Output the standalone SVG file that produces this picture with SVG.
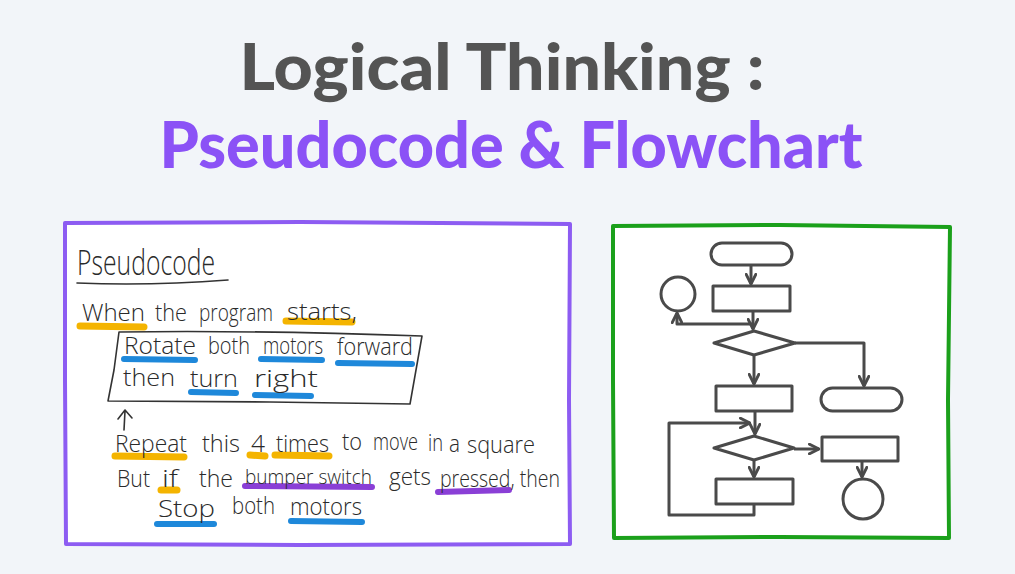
<svg xmlns="http://www.w3.org/2000/svg" width="1015" height="574" viewBox="0 0 1015 574">
<defs>
<style>
.title{font-family:Lato,"Open Sans","Liberation Sans",sans-serif;font-weight:900;font-size:64px;text-anchor:middle}
.hw{font-family:"Open Sans","Liberation Sans",sans-serif;font-weight:300;font-size:23px;fill:#2a2a2a}
.big{font-size:34px}
.sm{font-size:20px}
.ink{fill:none;stroke:#333;stroke-width:1.6;stroke-linecap:round;stroke-linejoin:round}
.hy{stroke:#F4B400;stroke-width:7;stroke-linecap:round;fill:none}
.hb{stroke:#1E88DA;stroke-width:6;stroke-linecap:round;fill:none}
.hp{stroke:#8A3FD6;stroke-width:6;stroke-linecap:round;fill:none}
.fc{fill:#fff;stroke:#4a4a4a;stroke-width:3;stroke-linejoin:round}
.cn{fill:none;stroke:#4a4a4a;stroke-width:3;stroke-linejoin:round}
</style>
<marker id="ah" viewBox="0 0 10 10" refX="9" refY="5" markerWidth="12" markerHeight="12" markerUnits="userSpaceOnUse" orient="auto">
<path d="M1,1 L9,5 L1,9" fill="none" stroke="#4a4a4a" stroke-width="2.4" stroke-linecap="round" stroke-linejoin="round"/>
</marker>
</defs>
<rect width="1015" height="574" fill="#F2F5F9"/>

<g id="title">
<text class="title" x="502" y="90" fill="#545454" textLength="525" lengthAdjust="spacingAndGlyphs">Logical Thinking :</text>
<text class="title" x="511" y="168" fill="#8B52F6" textLength="703" lengthAdjust="spacingAndGlyphs">Pseudocode &amp; Flowchart</text>
</g>

<g id="pseudocode-panel">
<path d="M65,223 L300,222 L570,224 L569,400 L570,544 L300,545 L66,544 L65,380 Z" fill="#fff" stroke="#8D5CF2" stroke-width="4" stroke-linejoin="round"/>
<g id="highlights">
<path class="hy" d="M80,326 L144,327"/>
<path class="hy" d="M286,321 L352,322"/>
<path class="hb" d="M124,359 L195,360"/>
<path class="hb" d="M261,359 L322,360"/>
<path class="hb" d="M338,363 L412,364"/>
<path class="hb" d="M191,392 L236,393"/>
<path class="hb" d="M255,395 L311,396"/>
<path class="hy" d="M115,456 L184,457"/>
<path class="hy" d="M250,455 L265,456"/>
<path class="hy" d="M275,455 L329,456"/>
<path class="hy" d="M161,490 L177,490"/>
<path class="hp" d="M245,486 L372,487"/>
<path class="hp" d="M438,492 L509,490"/>
<path class="hb" d="M157,524 L214,524"/>
<path class="hb" d="M291,521 L362,522"/>
</g>
<text class="hw big" x="77" y="275" textLength="138" lengthAdjust="spacingAndGlyphs">Pseudocode</text>
<path class="ink" d="M77,283 Q150,286 228,280"/>
<g id="line1">
<text class="hw" x="82" y="321" textLength="63" lengthAdjust="spacingAndGlyphs">When</text>
<text class="hw" x="155" y="321" textLength="32" lengthAdjust="spacingAndGlyphs">the</text>
<text class="hw" x="199" y="321" textLength="74" lengthAdjust="spacingAndGlyphs">program</text>
<text class="hw" x="287" y="320" textLength="70" lengthAdjust="spacingAndGlyphs">starts,</text>
</g>
<path class="ink" d="M119,332 Q250,330 422,336 L416,370 L410,404 L270,402 L108,401 L114,370 Z"/>
<g id="line2">
<text class="hw" x="124" y="354" textLength="72" lengthAdjust="spacingAndGlyphs">Rotate</text>
<text class="hw" x="208" y="354" textLength="42" lengthAdjust="spacingAndGlyphs">both</text>
<text class="hw" x="263" y="354" textLength="60" lengthAdjust="spacingAndGlyphs">motors</text>
<text class="hw" x="337" y="355" textLength="76" lengthAdjust="spacingAndGlyphs">forward</text>
</g>
<g id="line3">
<text class="hw" x="123" y="386" textLength="52" lengthAdjust="spacingAndGlyphs">then</text>
<text class="hw" x="190" y="387" textLength="48" lengthAdjust="spacingAndGlyphs">turn</text>
<text class="hw" x="254" y="387" textLength="64" lengthAdjust="spacingAndGlyphs">right</text>
</g>
<path class="ink" d="M124,430 L125,411 M118,419 L125,410 L132,418"/>
<g id="line4">
<text class="hw" x="115" y="452" textLength="72" lengthAdjust="spacingAndGlyphs">Repeat</text>
<text class="hw" x="202" y="452" textLength="38" lengthAdjust="spacingAndGlyphs">this</text>
<text class="hw" x="251" y="452" textLength="14" lengthAdjust="spacingAndGlyphs">4</text>
<text class="hw" x="276" y="452" textLength="53" lengthAdjust="spacingAndGlyphs">times</text>
<text class="hw" x="342" y="450" textLength="20" lengthAdjust="spacingAndGlyphs">to</text>
<text class="hw" x="373" y="450" textLength="45" lengthAdjust="spacingAndGlyphs">move</text>
<text class="hw" x="428" y="451" textLength="15" lengthAdjust="spacingAndGlyphs">in</text>
<text class="hw" x="449" y="452" textLength="11" lengthAdjust="spacingAndGlyphs">a</text>
<text class="hw" x="467" y="453" textLength="68" lengthAdjust="spacingAndGlyphs">square</text>
</g>
<g id="line5">
<text class="hw" x="117" y="487" textLength="33" lengthAdjust="spacingAndGlyphs">But</text>
<text class="hw" x="162" y="487" textLength="16" lengthAdjust="spacingAndGlyphs">if</text>
<text class="hw" x="199" y="487" textLength="34" lengthAdjust="spacingAndGlyphs">the</text>
<text class="hw sm" x="245" y="484" textLength="127" lengthAdjust="spacingAndGlyphs">bumper switch</text>
<text class="hw" x="389" y="485" textLength="42" lengthAdjust="spacingAndGlyphs">gets</text>
<text class="hw" x="440" y="487" textLength="120" lengthAdjust="spacingAndGlyphs">pressed, then</text>
</g>
<g id="line6">
<text class="hw" x="158" y="517" textLength="57" lengthAdjust="spacingAndGlyphs">Stop</text>
<text class="hw" x="232" y="514" textLength="43" lengthAdjust="spacingAndGlyphs">both</text>
<text class="hw" x="290" y="515" textLength="72" lengthAdjust="spacingAndGlyphs">motors</text>
</g>
</g>

<g id="flowchart-panel">
<path d="M613,226 L780,225 L950,227 L948,400 L949,538 L780,537 L614,538 L613,380 Z" fill="#fff" stroke="#1BA01B" stroke-width="4" stroke-linejoin="round"/>
</g>

<g id="connectors">
<path class="cn" d="M751,265 V284" marker-end="url(#ah)"/>
<path class="cn" d="M753,311 V329" marker-end="url(#ah)"/>
<path class="cn" d="M753,324 H677 V313" marker-end="url(#ah)"/>
<path class="cn" d="M795,343 H864 V386" marker-end="url(#ah)"/>
<path class="cn" d="M754,356 V384" marker-end="url(#ah)"/>
<path class="cn" d="M755,411 V434" marker-end="url(#ah)"/>
<path class="cn" d="M754,504 V515 H669 V423 H750" marker-end="url(#ah)"/>
<path class="cn" d="M794,449 H819" marker-end="url(#ah)"/>
<path class="cn" d="M754,460 V477" marker-end="url(#ah)"/>
<path class="cn" d="M862,461 V477" marker-end="url(#ah)"/>
</g>

<g id="start"><rect class="fc" x="711" y="243" width="81" height="22" rx="11"/></g>
<g id="process1"><rect class="fc" x="713" y="286" width="77" height="25"/></g>
<g id="connector-circle1"><circle class="fc" cx="678" cy="294" r="17"/></g>
<g id="decision1"><path class="fc" d="M714,343 L754,331 L795,343 L754,355 Z"/></g>
<g id="process2"><rect class="fc" x="716" y="386" width="76" height="25"/></g>
<g id="end1"><rect class="fc" x="821" y="388" width="81" height="23" rx="11.5"/></g>
<g id="decision2"><path class="fc" d="M714,448 L754,436 L794,448 L754,460 Z"/></g>
<g id="process4"><rect class="fc" x="822" y="437" width="76" height="24"/></g>
<g id="process3"><rect class="fc" x="716" y="479" width="77" height="25"/></g>
<g id="connector-circle2"><circle class="fc" cx="863" cy="499" r="20"/></g>
</svg>
